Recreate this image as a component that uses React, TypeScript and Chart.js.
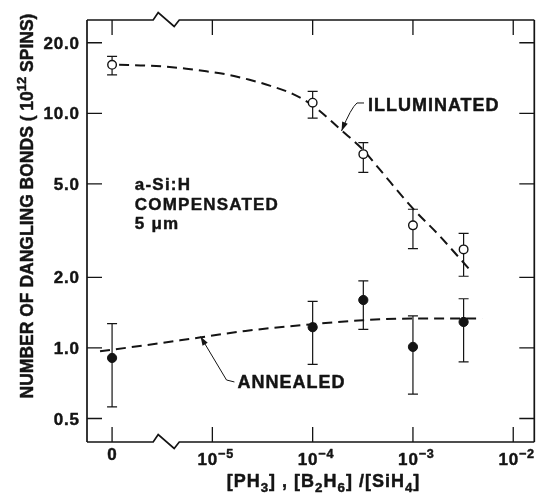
import React, { useEffect, useRef } from 'react';
import { Chart, registerables } from 'chart.js';

Chart.register(...registerables);

// ---------------- data ----------------
const ZERO_POS = -6; // axis position (log10 units) where the undoped "0" sample sits
const X_MIN = -6.25;
const X_MAX = -1.79;
const Y_MIN = 0.397;
const Y_MAX = 25.0;
const BREAK_LEFT = -5.59;
const BREAK_RIGHT = -5.33;

const xTickValues = [0, 1e-5, 1e-4, 1e-3, 1e-2];
const xTickLabels = ['0', '10^{−5}', '10^{−4}', '10^{−3}', '10^{−2}'];
const yTickValues = [0.5, 1, 2, 5, 10, 20];
const yTickLabels = ['0.5', '1.0', '2.0', '5.0', '10.0', '20.0'];

const xTitle = '[PH_{3}] , [B_{2}H_{6}] /[SiH_{4}]';
const yTitle = 'NUMBER OF DANGLING BONDS ( 10^{12} SPINS)';

const illumConc = [0, 1e-4, 3.2e-4, 1e-3, 3.2e-3];
const illumValue = [16.1, 11.1, 6.7, 3.33, 2.63];
const illumLow = [14.6, 9.55, 5.6, 2.65, 2.02];
const illumHigh = [17.5, 12.4, 7.5, 3.9, 3.08];

const annealConc = [0, 1e-4, 3.2e-4, 1e-3, 3.2e-3];
const annealValue = [0.906, 1.225, 1.6, 1.01, 1.29];
const annealLow = [0.56, 0.85, 1.2, 0.635, 0.872];
const annealHigh = [1.27, 1.58, 1.93, 1.37, 1.62];

// dashed guide curves (x in log10 axis units)
const illumFitLogX = [-5.93, -5.67, -5.46, -5.26, -5.06, -4.84, -4.63, -4.42, -4.2, -4.0, -3.71, -3.51, -3.34, -3.01, -2.74, -2.41];
const illumFitValue = [16.1, 16.0, 15.8, 15.5, 15.1, 14.6, 13.9, 13.1, 12.1, 10.8, 8.44, 7.08, 5.82, 3.97, 3.02, 2.1];
const annealFitLogX = [-6.12, -5.66, -5.13, -4.67, -4.0, -3.5, -3.01, -2.31];
const annealFitValue = [0.968, 1.027, 1.107, 1.181, 1.262, 1.312, 1.334, 1.334];

// annotations (anchors in data coordinates)
const illumLabel = { text: 'ILLUMINATED', x: -3.449, y: 10.26 };
const illumLeader = [
  { x: -3.488, y: 11.07 },
  { x: -3.558, y: 11.07 },
  { x: -3.618, y: 10.54 },
  { x: -3.712, y: 8.41 },
];
const annealLabel = { text: 'ANNEALED', x: -4.75, y: 0.673 };
const annealLeader = [
  { x: -4.78, y: 0.7157 },
  { x: -4.859, y: 0.7297 },
  { x: -5.118, y: 1.1183 },
];
const sampleLines = ['a-Si:H', 'COMPENSATED', '5 μm'];
const sampleAnchor = { x: -5.773, y: 4.69 };

// ---------------- helpers ----------------
const toPos = (c: number) => (c === 0 ? ZERO_POS : Math.log10(c));
const INK = '#141414';
const FONT = '"Liberation Sans", Arial, Helvetica, sans-serif';

type Run = { t: string; k: number };
function parseRich(s: string): Run[] {
  const runs: Run[] = [];
  const re = /([\^_])\{([^}]*)\}/g;
  let last = 0;
  let m: RegExpExecArray | null;
  while ((m = re.exec(s))) {
    if (m.index > last) runs.push({ t: s.slice(last, m.index), k: 0 });
    runs.push({ t: m[2], k: m[1] === '^' ? 1 : -1 });
    last = re.lastIndex;
  }
  if (last < s.length) runs.push({ t: s.slice(last), k: 0 });
  return runs;
}

function drawRich(
  ctx: CanvasRenderingContext2D,
  s: string,
  x: number,
  y: number,
  size: number,
  align: 'left' | 'center' | 'right',
  spacing = 0
) {
  const runs = parseRich(s);
  const font = (sz: number) => `bold ${sz}px ${FONT}`;
  ctx.save();
  ctx.fillStyle = INK;
  ctx.strokeStyle = INK;
  ctx.lineWidth = 0.45;
  ctx.lineJoin = 'round';
  ctx.textBaseline = 'alphabetic';
  ctx.textAlign = 'left';
  (ctx as any).letterSpacing = spacing + 'px';
  const widths = runs.map((r) => {
    ctx.font = font(r.k ? size * 0.74 : size);
    return ctx.measureText(r.t).width;
  });
  const total = widths.reduce((a, b) => a + b, 0) - spacing;
  let cx = align === 'center' ? x - total / 2 : align === 'right' ? x - total : x;
  runs.forEach((r, i) => {
    ctx.font = font(r.k ? size * 0.74 : size);
    const dy = r.k === 1 ? -size * 0.42 : r.k === -1 ? size * 0.3 : 0;
    ctx.fillText(r.t, cx, y + dy);
    ctx.strokeText(r.t, cx, y + dy);
    cx += widths[i];
  });
  ctx.restore();
}

function arrowHead(ctx: CanvasRenderingContext2D, tx: number, ty: number, fx: number, fy: number) {
  const dx = tx - fx;
  const dy = ty - fy;
  const l = Math.hypot(dx, dy) || 1;
  const ux = dx / l;
  const uy = dy / l;
  const len = 9;
  const half = 3;
  ctx.beginPath();
  ctx.moveTo(tx, ty);
  ctx.lineTo(tx - ux * len - uy * half, ty - uy * len + ux * half);
  ctx.lineTo(tx - ux * len + uy * half, ty - uy * len - ux * half);
  ctx.closePath();
  ctx.fill();
}

const paperPlugin = {
  id: 'paper',
  beforeDatasetsDraw(chart: any) {
    const ctx: CanvasRenderingContext2D = chart.ctx;
    const xs = chart.scales.x;
    const ys = chart.scales.y;
    ctx.save();
    ctx.strokeStyle = INK;
    ctx.lineWidth = 1.2;
    const bars = (conc: number[], lo: number[], hi: number[]) => {
      conc.forEach((c, i) => {
        const px = xs.getPixelForValue(toPos(c));
        const y1 = ys.getPixelForValue(lo[i]);
        const y2 = ys.getPixelForValue(hi[i]);
        ctx.beginPath();
        ctx.moveTo(px, y1);
        ctx.lineTo(px, y2);
        ctx.moveTo(px - 5, y1);
        ctx.lineTo(px + 5, y1);
        ctx.moveTo(px - 5, y2);
        ctx.lineTo(px + 5, y2);
        ctx.stroke();
      });
    };
    bars(illumConc, illumLow, illumHigh);
    bars(annealConc, annealLow, annealHigh);
    ctx.restore();
  },
  afterDraw(chart: any) {
    const ctx: CanvasRenderingContext2D = chart.ctx;
    const xs = chart.scales.x;
    const ys = chart.scales.y;
    const { left, right, top, bottom } = chart.chartArea;
    ctx.save();
    ctx.strokeStyle = INK;
    ctx.fillStyle = INK;

    // frame with axis break
    ctx.lineWidth = 1.7;
    ctx.lineJoin = 'miter';
    ctx.beginPath();
    ctx.moveTo(left, top);
    ctx.lineTo(left, bottom);
    ctx.moveTo(right, top);
    ctx.lineTo(right, bottom);
    ctx.stroke();
    const bL = xs.getPixelForValue(BREAK_LEFT);
    const bR = xs.getPixelForValue(BREAK_RIGHT);
    [top, bottom].forEach((y) => {
      ctx.beginPath();
      ctx.moveTo(left, y);
      ctx.lineTo(bL, y);
      ctx.lineTo(bL + 5, y - 7.5);
      ctx.lineTo(bL + 21, y + 6.5);
      ctx.lineTo(bR, y);
      ctx.lineTo(right, y);
      ctx.stroke();
    });

    // ticks (inward, mirrored)
    ctx.lineWidth = 1.3;
    const T = 15;
    ctx.beginPath();
    xTickValues.forEach((v) => {
      const px = xs.getPixelForValue(toPos(v));
      ctx.moveTo(px, top);
      ctx.lineTo(px, top + T);
      ctx.moveTo(px, bottom);
      ctx.lineTo(px, bottom - T);
    });
    yTickValues.forEach((v) => {
      const py = ys.getPixelForValue(v);
      ctx.moveTo(left, py);
      ctx.lineTo(left + T, py);
      ctx.moveTo(right, py);
      ctx.lineTo(right - T, py);
    });
    ctx.stroke();

    // tick labels
    yTickValues.forEach((v, i) => {
      const py = ys.getPixelForValue(v);
      drawRich(ctx, yTickLabels[i], left - 8, py + 6, 17, 'right', 0.8);
    });
    xTickValues.forEach((v, i) => {
      const px = xs.getPixelForValue(toPos(v));
      const lab = xTickLabels[i];
      const hasSup = lab.indexOf('^') >= 0;
      drawRich(ctx, lab, px + (hasSup ? 3 : 0), hasSup ? 465 : 460, 17, 'center', 0.8);
    });

    // axis titles
    drawRich(ctx, xTitle, 323, 487, 18, 'center', 1.0);
    ctx.save();
    ctx.translate(33, 206);
    ctx.rotate(-Math.PI / 2);
    drawRich(ctx, yTitle, 0, 0, 17.5, 'center', 0);
    ctx.restore();

    // annotations
    const P = (p: { x: number; y: number }) => ({ x: xs.getPixelForValue(p.x), y: ys.getPixelForValue(p.y) });
    const il = P(illumLabel);
    drawRich(ctx, illumLabel.text, il.x, il.y, 18, 'left', 1.0);
    const al = P(annealLabel);
    drawRich(ctx, annealLabel.text, al.x, al.y, 18, 'left', 1.0);
    const sa = P(sampleAnchor);
    sampleLines.forEach((t, i) => drawRich(ctx, t, sa.x, sa.y + i * 19.2, 17, 'left', 1.2));

    ctx.lineWidth = 1;
    const ip = illumLeader.map(P);
    ctx.beginPath();
    ctx.moveTo(ip[0].x, ip[0].y);
    ctx.lineTo(ip[1].x, ip[1].y);
    ctx.quadraticCurveTo(ip[2].x, ip[2].y, ip[3].x, ip[3].y);
    ctx.stroke();
    arrowHead(ctx, ip[3].x, ip[3].y, ip[2].x, ip[2].y);

    const ap = annealLeader.map(P);
    ctx.beginPath();
    ctx.moveTo(ap[0].x, ap[0].y);
    ctx.lineTo(ap[1].x, ap[1].y);
    ctx.lineTo(ap[2].x, ap[2].y);
    ctx.stroke();
    arrowHead(ctx, ap[2].x, ap[2].y, ap[1].x, ap[1].y);

    ctx.restore();
  },
};

export default function App() {
  const ref = useRef<HTMLCanvasElement>(null);
  useEffect(() => {
    document.body.style.margin = '0';
    const canvas = ref.current;
    if (!canvas) return;
    const chart = new Chart(canvas, {
      type: 'scatter',
      data: {
        datasets: [
          {
            type: 'scatter',
            label: 'Illuminated',
            data: illumConc.map((c, i) => ({ x: toPos(c), y: illumValue[i] })),
            pointRadius: 4.3,
            pointBackgroundColor: '#ffffff',
            pointBorderColor: INK,
            pointBorderWidth: 1.4,
            order: 0,
          },
          {
            type: 'scatter',
            label: 'Annealed',
            data: annealConc.map((c, i) => ({ x: toPos(c), y: annealValue[i] })),
            pointRadius: 4.6,
            pointBackgroundColor: INK,
            pointBorderColor: INK,
            pointBorderWidth: 1,
            order: 0,
          },
          {
            type: 'line',
            label: 'Illuminated fit',
            data: illumFitLogX.map((x, i) => ({ x, y: illumFitValue[i] })),
            borderColor: INK,
            borderWidth: 2,
            borderDash: [10, 6],
            pointRadius: 0,
            fill: false,
            cubicInterpolationMode: 'monotone',
            order: 1,
          },
          {
            type: 'line',
            label: 'Annealed fit',
            data: annealFitLogX.map((x, i) => ({ x, y: annealFitValue[i] })),
            borderColor: INK,
            borderWidth: 2,
            borderDash: [10, 6],
            pointRadius: 0,
            fill: false,
            cubicInterpolationMode: 'monotone',
            order: 1,
          },
        ] as any,
      },
      options: {
        responsive: false,
        animation: false,
        devicePixelRatio: 1,
        layout: { padding: { left: 87, right: 4, top: 20, bottom: 56 } },
        scales: {
          x: { type: 'linear', min: X_MIN, max: X_MAX, display: false },
          y: { type: 'logarithmic', min: Y_MIN, max: Y_MAX, display: false },
        },
        plugins: {
          legend: { display: false },
          tooltip: { enabled: false },
        },
        events: [],
      } as any,
      plugins: [paperPlugin],
    });
    return () => chart.destroy();
  }, []);
  return <canvas ref={ref} width={540} height={498} style={{ display: 'block', width: 540, height: 498 }} />;
}
